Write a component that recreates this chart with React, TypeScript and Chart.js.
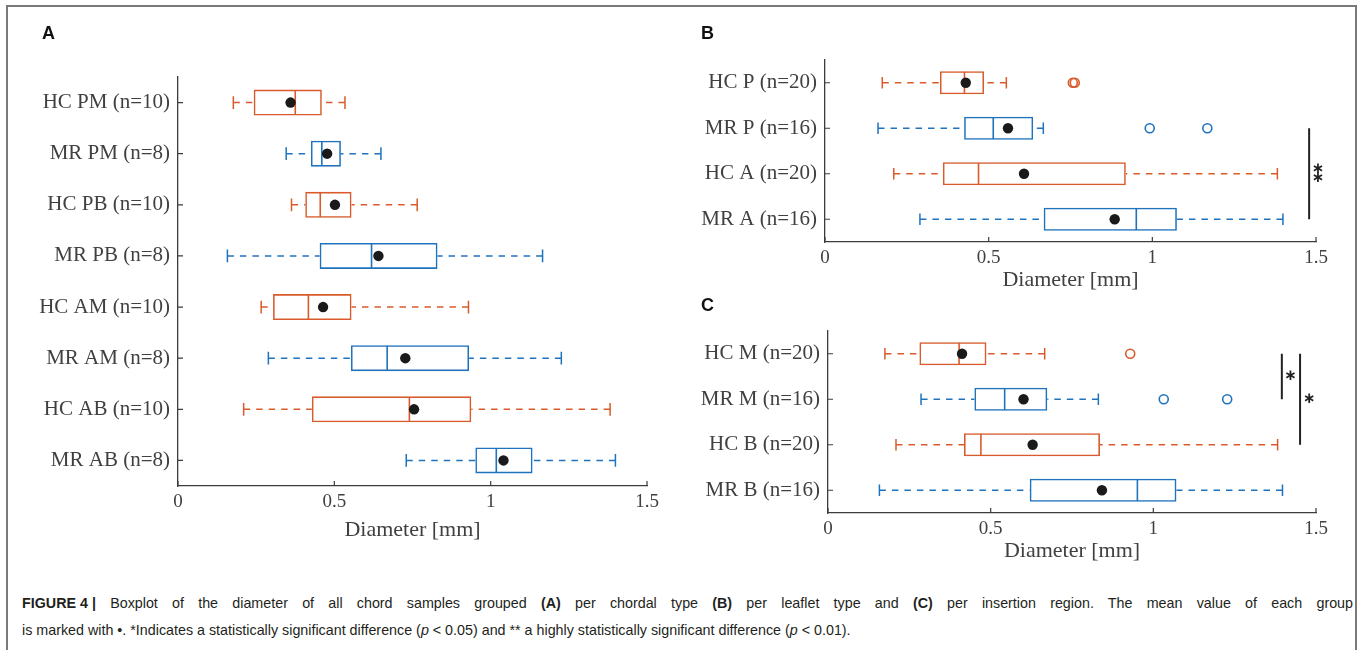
import React, { useEffect, useRef } from 'react';
import { Chart, registerables } from 'chart.js';
Chart.register(...registerables);

const ORANGE = '#d95b2c';
const BLUE = '#1f73bd';
const SERIF = "'Liberation Serif', 'Times New Roman', serif";
const AXIS = '#3c3c3c';
const TEXT = '#404040';

// ---------- Panel A: per chordal type ----------
const catsA = ['HC PM (n=10)', 'MR PM (n=8)', 'HC PB (n=10)', 'MR PB (n=8)', 'HC AM (n=10)', 'MR AM (n=8)', 'HC AB (n=10)', 'MR AB (n=8)'];
const loA = [0.177, 0.346, 0.363, 0.158, 0.266, 0.289, 0.210, 0.730];
const q1A = [0.242, 0.425, 0.407, 0.453, 0.304, 0.553, 0.428, 0.951];
const medA = [0.375, 0.460, 0.455, 0.619, 0.417, 0.669, 0.740, 1.018];
const q3A = [0.460, 0.521, 0.555, 0.830, 0.555, 0.931, 0.938, 1.134];
const hiA = [0.534, 0.649, 0.765, 1.166, 0.929, 1.226, 1.382, 1.399];
const meanA = [0.360, 0.477, 0.502, 0.641, 0.464, 0.727, 0.755, 1.041];
const outA: number[][] = [[], [], [], [], [], [], [], []];

// ---------- Panel B: per leaflet type ----------
const catsB = ['HC P (n=20)', 'MR P (n=16)', 'HC A (n=20)', 'MR A (n=16)'];
const loB = [0.175, 0.162, 0.210, 0.290];
const q1B = [0.351, 0.425, 0.360, 0.668];
const medB = [0.426, 0.514, 0.469, 0.951];
const q3B = [0.486, 0.636, 0.919, 1.075];
const hiB = [0.554, 0.667, 1.382, 1.399];
const meanB = [0.430, 0.559, 0.608, 0.885];
const outB: number[][] = [[0.757, 0.763], [0.992, 1.168], [], []];
const sigBarsB = [{ x: 1.479, from: 1, to: 3 }];
const sigStarsB = [{ x: 1.506, y: 1.9 }, { x: 1.506, y: 2.1 }];

// ---------- Panel C: per insertion region ----------
const catsC = ['HC M (n=20)', 'MR M (n=16)', 'HC B (n=20)', 'MR B (n=16)'];
const loC = [0.175, 0.286, 0.209, 0.158];
const q1C = [0.281, 0.450, 0.418, 0.620];
const medC = [0.403, 0.543, 0.470, 0.951];
const q3C = [0.487, 0.674, 0.836, 1.071];
const hiC = [0.666, 0.831, 1.382, 1.397];
const meanC = [0.412, 0.601, 0.629, 0.842];
const outC: number[][] = [[0.929], [1.032, 1.227], [], []];
const sigBarsC = [{ x: 1.395, from: 0, to: 1 }, { x: 1.451, from: 0, to: 2 }];
const sigStarsC = [{ x: 1.422, y: 0.5 }, { x: 1.479, y: 1 }];

const xTickValues = [0, 0.5, 1, 1.5];
const xTickLabels = ['0', '0.5', '1', '1.5'];
const xTitle = 'Diameter [mm]';

type Panel = {
  cats: string[]; lo: number[]; q1: number[]; med: number[]; q3: number[]; hi: number[]; mean: number[]; out: number[][];
  sigBars: { x: number; from: number; to: number }[];
  sigStars: { x: number; y: number }[];
  left: number; top: number; w: number; h: number;
  cl: number; cr: number; ct: number; cb: number; titleY: number;
};

const colorOf = (c: string) => (c.startsWith('HC') ? ORANGE : BLUE);

function makePlugin(p: Panel) {
  return {
    id: 'boxExtras',
    afterDatasetsDraw(chart: any) {
      const ctx = chart.ctx as CanvasRenderingContext2D;
      const xs = chart.scales.x;
      const ys = chart.scales.y;
      const area = chart.chartArea;
      const band = Math.abs(ys.getPixelForValue(1) - ys.getPixelForValue(0));
      const half = band * 0.255;
      const cap = band * 0.125;
      const px = (v: number) => xs.getPixelForValue(v);
      ctx.save();
      p.cats.forEach((c, i) => {
        const col = colorOf(c);
        const y = ys.getPixelForValue(i);
        ctx.strokeStyle = col;
        ctx.lineWidth = 1.5;
        ctx.setLineDash([6.5, 6]);
        ctx.beginPath();
        ctx.moveTo(px(p.lo[i]), y); ctx.lineTo(px(p.q1[i]), y);
        ctx.moveTo(px(p.hi[i]), y); ctx.lineTo(px(p.q3[i]), y);
        ctx.stroke();
        ctx.setLineDash([]);
        ctx.beginPath();
        ctx.moveTo(px(p.lo[i]), y - cap); ctx.lineTo(px(p.lo[i]), y + cap);
        ctx.moveTo(px(p.hi[i]), y - cap); ctx.lineTo(px(p.hi[i]), y + cap);
        ctx.stroke();
        ctx.lineWidth = 1.6;
        ctx.beginPath();
        ctx.moveTo(px(p.med[i]), y - half + 0.7); ctx.lineTo(px(p.med[i]), y + half - 0.7);
        ctx.stroke();
        p.out[i].forEach((v) => {
          ctx.beginPath();
          ctx.arc(px(v), y, 4.5, 0, Math.PI * 2);
          ctx.stroke();
        });
        ctx.fillStyle = '#1a1a1a';
        ctx.beginPath();
        ctx.arc(px(p.mean[i]), y, 5.2, 0, Math.PI * 2);
        ctx.fill();
      });
      // inward tick marks (MATLAB style)
      ctx.strokeStyle = AXIS;
      ctx.lineWidth = 1.2;
      ctx.beginPath();
      xs.ticks.forEach((_t: any, k: number) => {
        const x = xs.getPixelForTick(k);
        ctx.moveTo(x, area.bottom); ctx.lineTo(x, area.bottom - 5);
      });
      ys.ticks.forEach((_t: any, k: number) => {
        const y = ys.getPixelForTick(k);
        ctx.moveTo(area.left, y); ctx.lineTo(area.left + 5, y);
      });
      ctx.stroke();
      // significance bars and stars
      ctx.strokeStyle = '#222';
      ctx.lineWidth = 2;
      p.sigBars.forEach((b) => {
        ctx.beginPath();
        ctx.moveTo(px(b.x), ys.getPixelForValue(b.from));
        ctx.lineTo(px(b.x), ys.getPixelForValue(b.to));
        ctx.stroke();
      });
      ctx.fillStyle = '#222';
      ctx.font = "bold 15px 'DejaVu Sans'";
      ctx.textAlign = 'center';
      ctx.textBaseline = 'middle';
      p.sigStars.forEach((s) => {
        ctx.fillText('\u2217', px(s.x), ys.getPixelForValue(s.y));
      });
      ctx.restore();
    },
  };
}

function BoxPanel({ p }: { p: Panel }) {
  const ref = useRef<HTMLCanvasElement>(null);
  useEffect(() => {
    const titleFont = 22;
    const xAxisH = p.titleY + (titleFont * 1.2) / 2 - p.cb;
    const chart = new Chart(ref.current as HTMLCanvasElement, {
      type: 'bar',
      data: {
        labels: p.cats,
        datasets: [
          {
            data: p.cats.map((_, i) => [p.q1[i], p.q3[i]]) as any,
            backgroundColor: 'rgba(255,255,255,0)',
            borderColor: p.cats.map(colorOf),
            borderWidth: 1.6,
            borderSkipped: false,
            barPercentage: 0.51,
            categoryPercentage: 1,
          },
        ],
      },
      options: {
        indexAxis: 'y',
        responsive: false,
        animation: false,
        devicePixelRatio: 1,
        layout: { padding: { left: 0, top: p.ct, right: p.w - p.cr, bottom: p.h - p.cb - xAxisH } },
        plugins: { legend: { display: false }, tooltip: { enabled: false } },
        scales: {
          x: {
            type: 'linear',
            min: xTickValues[0],
            max: xTickValues[xTickValues.length - 1],
            afterBuildTicks: (s: any) => { s.ticks = xTickValues.map((v) => ({ value: v })); },
            ticks: {
              font: { family: SERIF, size: 19 }, color: TEXT, padding: 5,
              callback: (v: any) => xTickLabels[xTickValues.indexOf(Number(v))] ?? '',
            },
            grid: { display: false, drawTicks: false },
            border: { display: true, color: AXIS, width: 1.3 },
            title: { display: true, text: xTitle, font: { family: SERIF, size: titleFont }, color: TEXT, padding: 0 },
            afterFit: (s: any) => { s.height = xAxisH; },
          },
          y: {
            type: 'category',
            ticks: { font: { family: SERIF, size: 21 }, color: TEXT, padding: 8 },
            grid: { display: false, drawTicks: false },
            border: { display: true, color: AXIS, width: 1.3 },
            afterFit: (s: any) => { s.width = p.cl; },
          },
        },
      } as any,
      plugins: [makePlugin(p)],
    });
    return () => chart.destroy();
  }, []);
  return (
    <canvas
      ref={ref}
      width={p.w}
      height={p.h}
      style={{ position: 'absolute', left: p.left, top: p.top, width: p.w, height: p.h }}
    />
  );
}

const panelA: Panel = {
  cats: catsA, lo: loA, q1: q1A, med: medA, q3: q3A, hi: hiA, mean: meanA, out: outA,
  sigBars: [], sigStars: [],
  left: 0, top: 0, w: 680, h: 560, cl: 178, cr: 647, ct: 77, cb: 486, titleY: 530,
};
const panelB: Panel = {
  cats: catsB, lo: loB, q1: q1B, med: medB, q3: q3B, hi: hiB, mean: meanB, out: outB,
  sigBars: sigBarsB, sigStars: sigStarsB,
  left: 680, top: 0, w: 680, h: 292, cl: 145, cr: 636, ct: 60, cb: 242, titleY: 280,
};
const panelC: Panel = {
  cats: catsC, lo: loC, q1: q1C, med: medC, q3: q3C, hi: hiC, mean: meanC, out: outC,
  sigBars: sigBarsC, sigStars: sigStarsC,
  left: 680, top: 290, w: 680, h: 275, cl: 148, cr: 636, ct: 41, cb: 223, titleY: 261,
};

const letterStyle: React.CSSProperties = {
  position: 'absolute',
  fontFamily: "'Liberation Sans', Arial, sans-serif",
  fontWeight: 'bold',
  fontSize: 18,
  lineHeight: '18px',
  color: '#111',
};

const captionStyle: React.CSSProperties = {
  position: 'absolute', left: 22, width: 1331, fontFamily: "'Liberation Sans', Arial, sans-serif",
  fontSize: 14.3, lineHeight: '27px', color: '#231f20', whiteSpace: 'nowrap',
};

export default function App() {
  return (
    <div style={{ position: 'absolute', left: 0, top: 0, width: 1360, height: 650, background: '#fff', overflow: 'hidden' }}>
      <div
        style={{
          position: 'absolute', left: 6, top: 5, width: 1351, height: 700, boxSizing: 'border-box',
          borderTop: '2px solid #7a7a7a', borderLeft: '2px solid #7a7a7a', borderRight: '2px solid #7a7a7a',
        }}
      />
      <BoxPanel p={panelA} />
      <BoxPanel p={panelB} />
      <BoxPanel p={panelC} />
      <div style={{ ...letterStyle, left: 42, top: 24 }}>A</div>
      <div style={{ ...letterStyle, left: 701, top: 24 }}>B</div>
      <div style={{ ...letterStyle, left: 701, top: 296 }}>C</div>
      <div style={{ ...captionStyle, top: 590, textAlign: 'justify', textAlignLast: 'justify' }}>
        <b style={{ display: 'inline-block' }}>FIGURE 4 |</b> Boxplot of the diameter of all chord samples grouped <b>(A)</b> per chordal type <b>(B)</b> per leaflet type and <b>(C)</b> per insertion region. The mean value of each group
      </div>
      <div style={{ ...captionStyle, top: 617 }}>
        is marked with •. *Indicates a statistically significant difference (<i>p</i> &lt; 0.05) and ** a highly statistically significant difference (<i>p</i> &lt; 0.01).
      </div>
    </div>
  );
}
